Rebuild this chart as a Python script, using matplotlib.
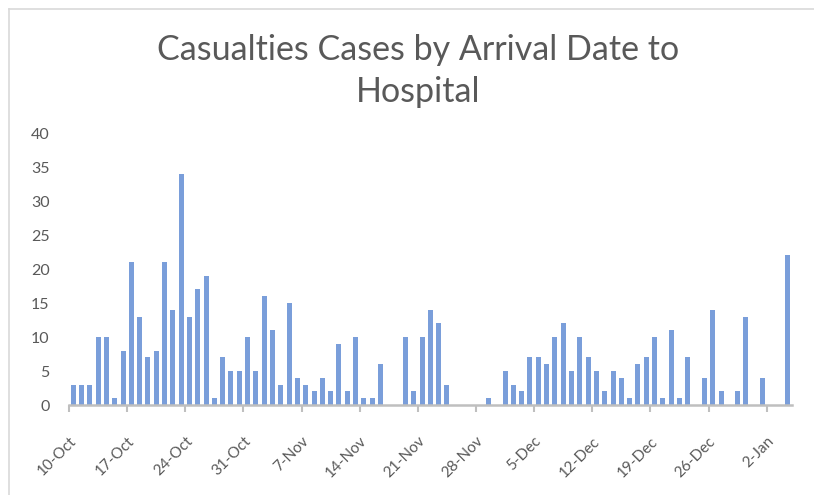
import datetime as dt
import matplotlib
matplotlib.use("Agg")
import matplotlib.pyplot as plt
import matplotlib.dates as mdates
import matplotlib.transforms as mtransforms
from matplotlib.lines import Line2D

start_date = dt.date(2020, 10, 10)
cases = [
    # Oct 10-31
    3, 3, 3, 10, 10, 1, 8, 21, 13, 7, 8, 21, 14, 34, 13, 17, 19, 1, 7, 5, 5, 10,
    # Nov 1-30
    5, 16, 11, 3, 15, 4, 3, 2, 4, 2, 9, 2, 10, 1, 1, 6, 0, 0, 10, 2,
    10, 14, 12, 3, 0, 0, 0, 0, 1, 0,
    # Dec 1-31
    5, 3, 2, 7, 7, 6, 10, 12, 5, 10, 7, 5, 2, 5, 4, 1, 6, 7, 10, 1,
    11, 1, 7, 0, 4, 14, 2, 0, 2, 13, 0,
    # Jan 1-4
    4, 0, 0, 22,
]
dates = [start_date + dt.timedelta(days=i) for i in range(len(cases))]
title = "Casualties Cases by Arrival Date to\nHospital"
y_ticks = [0, 5, 10, 15, 20, 25, 30, 35, 40]

font = ["Lato", "DejaVu Sans"]
text_color = "#595959"
bar_color = "#7A9EDA"
axis_color = "#BFBFBF"

fig = plt.figure(figsize=(8.14, 4.95), dpi=100)
ax = fig.add_axes([0.0848, 0.1818, 0.8877, 0.5495])

x = [mdates.date2num(d) + 0.5 for d in dates]
ax.bar(x, cases, width=0.6, color=bar_color, linewidth=0)

x0 = mdates.date2num(dates[0])
x1 = mdates.date2num(dates[-1]) + 1
ax.set_xlim(x0, x1)
ax.set_ylim(0, 40)

tick_dates = [dates[0] + dt.timedelta(days=7 * k) for k in range(13)]
ax.set_xticks([mdates.date2num(d) for d in tick_dates])
ax.set_xticklabels([f"{d.day}-{d.strftime('%b')}" for d in tick_dates],
                   rotation=45, ha="right", rotation_mode="anchor",
                   fontsize=11, color=text_color, family=font)
offset = mtransforms.ScaledTranslation(7 / 100, 0, fig.dpi_scale_trans)
for lab in ax.get_xticklabels():
    lab.set_transform(lab.get_transform() + offset)
ax.set_yticks(y_ticks)
ax.set_yticklabels([str(v) for v in y_ticks], fontsize=11.5, color=text_color, family=font)

for s in ["top", "right", "left"]:
    ax.spines[s].set_visible(False)
ax.spines["bottom"].set_color(axis_color)
ax.spines["bottom"].set_linewidth(1.8)
ax.tick_params(axis="x", length=5, width=1.5, color=axis_color, pad=16)
ax.tick_params(axis="y", length=0, pad=14)

fig.text(0.5135, 0.8566, title, ha="center", va="center", fontsize=24.5,
         color=text_color, family=font, linespacing=1.39)

# chart frame (left and top edges visible)
fig.add_artist(Line2D([9 / 814, 9 / 814], [0, 1 - 9 / 495], transform=fig.transFigure,
                      color="#D9D9D9", linewidth=1.2))
fig.add_artist(Line2D([9 / 814, 1], [1 - 9 / 495, 1 - 9 / 495], transform=fig.transFigure,
                      color="#D9D9D9", linewidth=1.2))

fig.savefig("out.png", dpi=100)
